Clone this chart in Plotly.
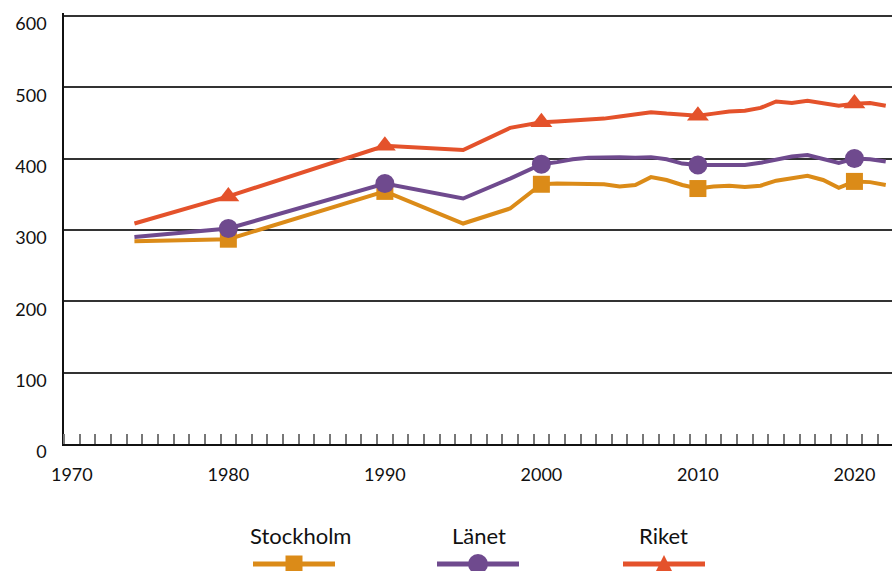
import plotly.graph_objects as go

# Population per 1000 (index series) for Stockholm, the county and the whole country
years = [1974, 1980, 1990, 1995, 1998, 2000, 2001, 2002, 2003, 2004, 2005, 2006,
         2007, 2008, 2009, 2010, 2011, 2012, 2013, 2014, 2015, 2016, 2017, 2018,
         2019, 2020, 2021, 2022]

stockholm = [284, 287, 354, 309, 330, 364, 365, 365, 365, 364, 361, 363,
             374, 370, 363, 358, 361, 362, 360, 362, 369, 373, 376, 370,
             359, 368, 367, 363]

lanet = [290, 302, 365, 344, 372, 392, 395, 399, 401, 402, 402, 401,
         402, 399, 393, 391, 391, 390, 391, 394, 399, 403, 405, 399,
         394, 400, 399, 396]

riket = [309, 347, 418, 412, 443, 451, 452, 453, 454, 456, 459, 462,
         465, 463, 461, 460, 463, 466, 467, 471, 480, 478, 481, 477,
         474, 477, 478, 474]

series_names = ["Stockholm", "Länet", "Riket"]
series_values = [stockholm, lanet, riket]
series_colors = ["#DB8B18", "#6F4A8E", "#E4522B"]
series_symbols = ["square", "circle", "triangle-up"]
series_marker_sizes = [17, 19, 19]

x_tick_labels = [1970, 1980, 1990, 2000, 2010, 2020]
y_tick_labels = [0, 100, 200, 300, 400, 500, 600]

FONT = "Lato"

fig = go.Figure()

for name, vals, color, sym, msize in zip(series_names, series_values, series_colors,
                                         series_symbols, series_marker_sizes):
    fig.add_trace(go.Scatter(
        x=years, y=vals, mode="lines", name=name,
        line=dict(color=color, width=4), showlegend=False, hoverinfo="x+y",
    ))
    # markers only on decade years
    dec_x = [yr for yr in years if yr % 10 == 0]
    dec_y = [v for yr, v in zip(years, vals) if yr % 10 == 0]
    fig.add_trace(go.Scatter(
        x=dec_x, y=dec_y, mode="markers", name=name,
        marker=dict(symbol=sym, size=msize, color=color, line=dict(width=0)),
        showlegend=False, hoverinfo="x+y",
    ))

# plot area geometry in pixels (used for the hand-built legend below the chart)
W, H = 892, 571
L, R, T, B = 64, 0, 13, 127
pw, ph = W - L - R, H - T - B


def px_x(x):
    return (x - L) / pw


def px_y(y):
    return (H - B - y) / ph


shapes = []
annotations = []
legend_centers = [294, 478, 664]
text_centers = [300, 479, 663]
line_y = 564
for name, color, sym, cx, tx in zip(series_names, series_colors, series_symbols,
                                     legend_centers, text_centers):
    annotations.append(dict(
        x=px_x(tx), y=px_y(535), xref="paper", yref="paper", text=name,
        showarrow=False, xanchor="center", yanchor="middle",
        font=dict(family=FONT, size=22, color="#111111"),
    ))
    shapes.append(dict(
        type="line", xref="paper", yref="paper",
        x0=px_x(cx - 41), x1=px_x(cx + 41), y0=px_y(line_y), y1=px_y(line_y),
        line=dict(color=color, width=5),
    ))
    if sym == "square":
        shapes.append(dict(
            type="rect", xref="paper", yref="paper",
            x0=px_x(cx - 8.5), x1=px_x(cx + 8.5), y0=px_y(line_y - 8.5), y1=px_y(line_y + 8.5),
            fillcolor=color, line=dict(width=0),
        ))
    elif sym == "circle":
        shapes.append(dict(
            type="circle", xref="paper", yref="paper",
            x0=px_x(cx - 10), x1=px_x(cx + 10), y0=px_y(line_y - 10), y1=px_y(line_y + 10),
            fillcolor=color, line=dict(width=0),
        ))
    else:
        path = "M {} {} L {} {} L {} {} Z".format(
            px_x(cx), px_y(555), px_x(cx - 11), px_y(577), px_x(cx + 11), px_y(577))
        shapes.append(dict(
            type="path", xref="paper", yref="paper", path=path,
            fillcolor=color, line=dict(width=0),
        ))

fig.update_layout(
    width=W, height=H,
    margin=dict(l=L, r=R, t=T, b=B, pad=0),
    paper_bgcolor="white", plot_bgcolor="white",
    font=dict(family=FONT, size=18, color="#111111"),
    shapes=shapes, annotations=annotations,
    showlegend=False,
)

fig.update_xaxes(
    range=[1969.5, 2022.4],
    tickmode="array", tickvals=x_tick_labels, ticktext=[str(v) for v in x_tick_labels],
    ticks="", showgrid=False, zeroline=False,
    showline=True, linecolor="#111111", linewidth=2,
    ticklabelstandoff=13,
    tickfont=dict(family=FONT, size=18, color="#111111"),
    minor=dict(tickmode="linear", tick0=1970.5, dtick=1, ticks="inside",
               ticklen=10, tickwidth=1.5, tickcolor="#777777", showgrid=False),
)

fig.update_yaxes(
    range=[0, 604],
    tickmode="array", tickvals=y_tick_labels, ticktext=[str(v) for v in y_tick_labels],
    ticks="", showgrid=True, gridcolor="#333333", gridwidth=1.5, zeroline=False,
    showline=True, linecolor="#111111", linewidth=1.5,
    ticklabelstandoff=12, ticklabelshift=8,
    tickfont=dict(family=FONT, size=18, color="#111111"),
)

fig.write_html("out.html")
